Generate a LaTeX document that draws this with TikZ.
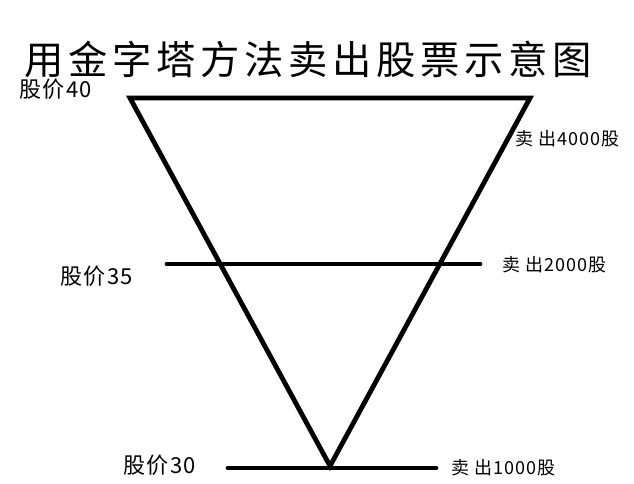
\documentclass[tikz,border=0pt]{standalone}
\usepackage{fontspec}
\setmainfont{Noto Sans CJK SC}
\newfontfamily\titlefont[LetterSpace=12]{Noto Sans CJK SC}
\newfontfamily\labelfont[LetterSpace=6]{Noto Sans CJK SC}
\usetikzlibrary{positioning}

\begin{document}
\begin{tikzpicture}[x=0.75pt, y=-0.75pt, line width=3.6pt, line cap=round,
    price/.style={inner sep=0pt, anchor=west, font=\labelfont\fontsize{16.5}{18}\selectfont},
    sell/.style={inner sep=0pt, anchor=west, font=\labelfont\fontsize{13.5}{15}\selectfont}]
  %================= Parameters (pixels) =================
  \def\ytop{98}      % price 40
  \def\ymid{264}     % price 35
  \def\ybot{468}     % price 30
  \useasboundingbox (0,0) rectangle (634,483);

  %================= Title =================
  \node[inner sep=0pt] (title) at (308,59)
    {\titlefont\fontsize{29.5}{32}\selectfont 用金字塔方法卖出股票示意图};

  %================= Inverted pyramid =================
  \coordinate (tl) at (130,\ytop);
  \coordinate (tr) at (530,\ytop);
  \coordinate (apex) at (330,466);
  \draw[line join=miter] (tl) -- (tr) -- (apex) -- cycle;

  %================= Price levels =================
  \coordinate (ml) at (167,\ymid);
  \coordinate (mr) at (480,\ymid);
  \draw (ml) -- (mr);
  \coordinate (bl) at (228,\ybot);
  \coordinate (br) at (436,\ybot);
  \draw (bl) -- (br);

  %================= Labels =================
  \node[price] (p40) at (17,89) {股价40};
  \node[price] (p35) at (58,276) {股价35};
  \node[price] (p30) at (121,465) {股价30};
  \node[sell] (s4000) at (513,139) {卖 出4000股};
  \node[sell] (s2000) at (500,265) {卖 出2000股};
  \node[sell] (s1000) at (449,468) {卖 出1000股};

\end{tikzpicture}
\end{document}
